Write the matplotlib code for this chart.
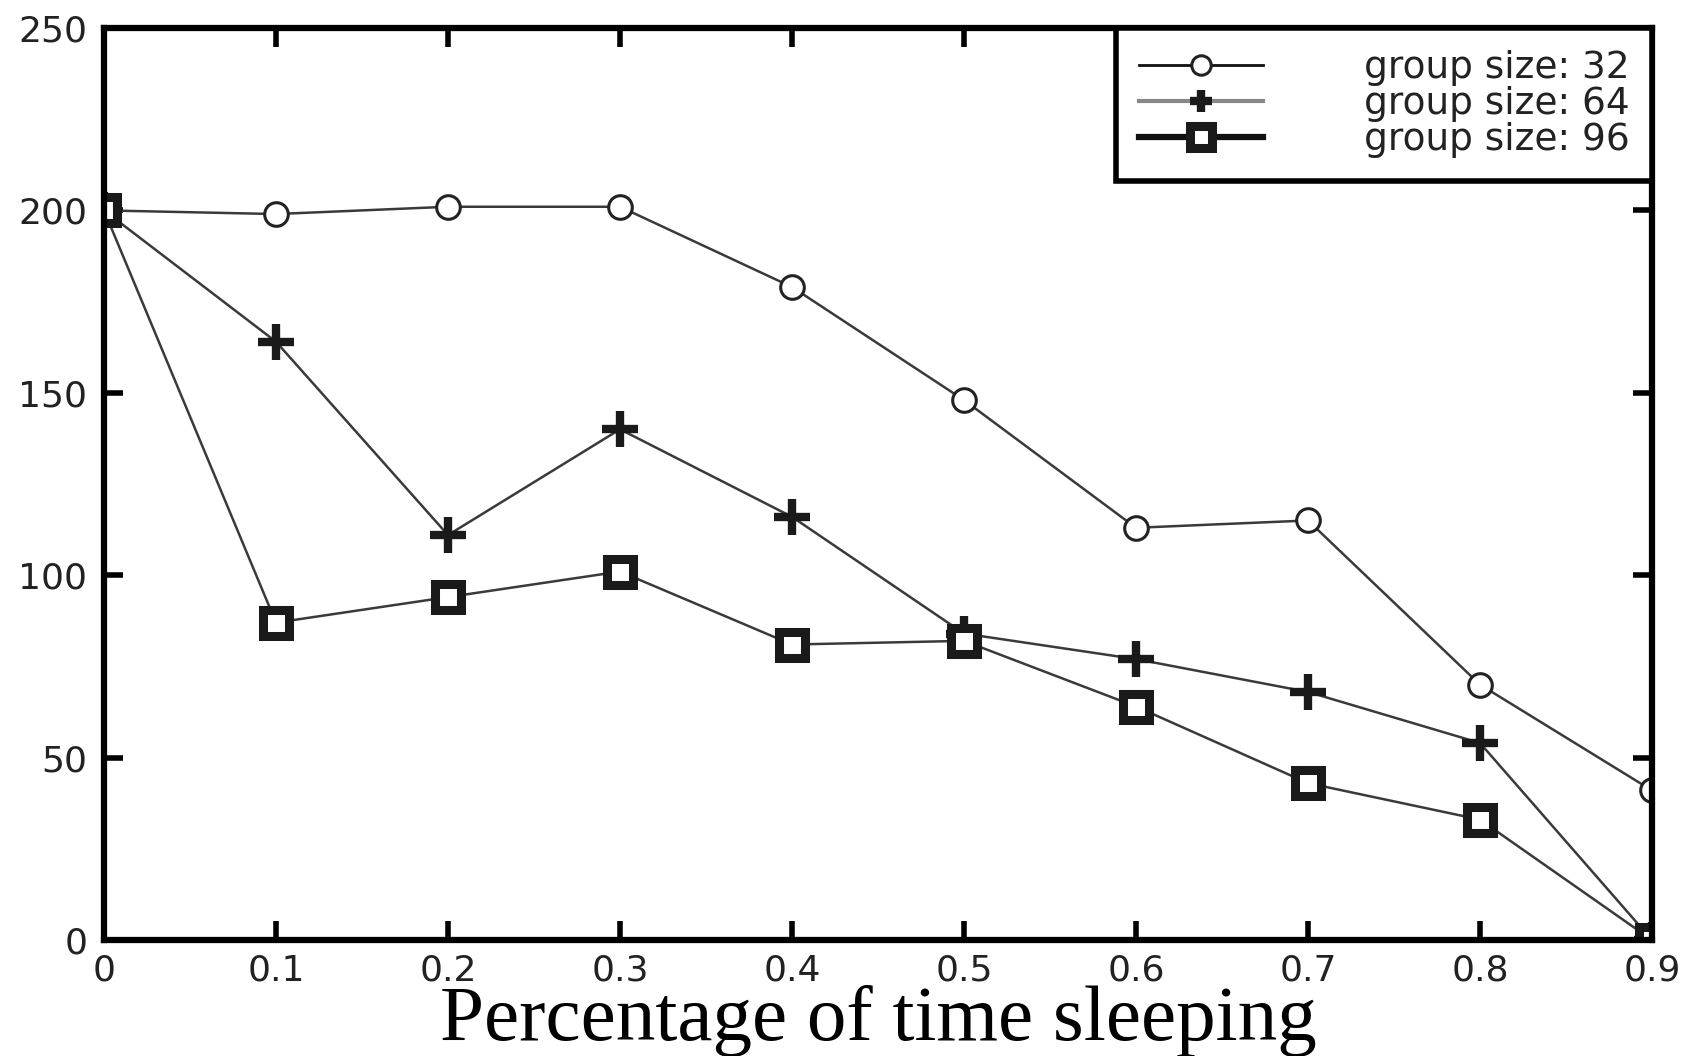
import matplotlib
matplotlib.use("Agg")
import matplotlib.pyplot as plt

# data
sleep_frac = [0, 0.1, 0.2, 0.3, 0.4, 0.5, 0.6, 0.7, 0.8, 0.9]
size_32 = [200, 199, 201, 201, 179, 148, 113, 115, 70, 41]
size_64 = [200, 164, 111, 140, 116, 84, 77, 68, 54, 0]
size_96 = [200, 87, 94, 101, 81, 82, 64, 43, 33, 0]
labels = ["group size: 32", "group size: 64", "group size: 96"]
x_ticks = [0, 0.1, 0.2, 0.3, 0.4, 0.5, 0.6, 0.7, 0.8, 0.9]
x_ticklabels = ["0", "0.1", "0.2", "0.3", "0.4", "0.5", "0.6", "0.7", "0.8", "0.9"]
y_ticks = [0, 50, 100, 150, 200, 250]

fig = plt.figure(figsize=(16.91, 10.56), dpi=100)
ax = fig.add_axes([104/1691, 1-940/1056, (1652-104)/1691, (940-28)/1056])

line_col = "#3a3a3a"
ax.plot(sleep_frac, size_32, "-o", color=line_col, lw=1.8, ms=17,
        mfc="white", mec="#222222", mew=2.2, label=labels[0])
ax.plot(sleep_frac, size_64, "-+", color=line_col, lw=1.8, ms=26,
        mec="#1a1a1a", mew=6, label=labels[1])
ax.plot(sleep_frac, size_96, "-s", color=line_col, lw=1.8, ms=19,
        mfc="white", mec="#1a1a1a", mew=6.5, label=labels[2])

ax.set_xlim(0, 0.9)
ax.set_ylim(0, 250)
ax.set_xticks(x_ticks)
ax.set_xticklabels(x_ticklabels)
ax.set_yticks(y_ticks)

for s in ax.spines.values():
    s.set_linewidth(4.5)
    s.set_color("black")
ax.tick_params(direction="in", length=14, width=4, top=True, right=True,
               labelsize=26, pad=12)
ax.tick_params(axis="x", pad=10)
for lab in ax.get_xticklabels() + ax.get_yticklabels():
    lab.set_family("DejaVu Sans")
    lab.set_color("#222222")
    lab.set_clip_on(False)

ax.set_xlabel("Percentage of time sleeping", family="Liberation Serif",
              fontsize=57, labelpad=-2)

leg = ax.legend(loc="upper right", borderaxespad=0, fancybox=False,
                prop={"family": "DejaVu Sans", "size": 27},
                handlelength=3.3, handletextpad=2.7, labelspacing=0.0,
                borderpad=0.6, framealpha=1)
leg.get_frame().set_edgecolor("black")
leg.get_frame().set_linewidth(4)
hl = leg.get_lines()
hl[0].set_color("#111111"); hl[0].set_linewidth(2); hl[0].set_markersize(14)
hl[1].set_color("#888888"); hl[1].set_linewidth(3); hl[1].set_markersize(16)
hl[2].set_color("#111111"); hl[2].set_linewidth(4.5); hl[2].set_markersize(16)
for t in leg.get_texts():
    t.set_color("#222222")

fig.savefig("out.png", dpi=100)
